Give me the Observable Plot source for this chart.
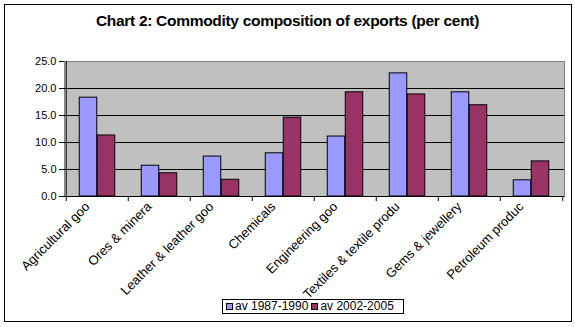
<!DOCTYPE html>
<html><head><meta charset="utf-8">
<script src="https://cdn.jsdelivr.net/npm/d3@7"></script>
<script src="https://cdn.jsdelivr.net/npm/@observablehq/plot@0.6"></script>
<style>
body{margin:0;background:#fff;font-family:"Liberation Sans",Arial,sans-serif;}
#wrap{position:relative;width:575px;height:327px;overflow:hidden;}
#border{position:absolute;left:4px;top:4px;width:566px;height:316px;border:1px solid #000;}
#title{position:absolute;left:0;top:12px;width:575px;text-align:center;font-weight:bold;font-size:15.5px;letter-spacing:-0.3px;}
#chart{position:absolute;left:0;top:40px;}
#legend{position:absolute;left:222px;top:299px;width:180px;height:13px;border:1px solid #000;font-size:12px;line-height:13px;white-space:nowrap;background:#fff;}
#legend span.sw{display:inline-block;width:5px;height:5px;border:1px solid #000;margin:0 2px 0 3px;vertical-align:0px;}
</style></head>
<body><div id="wrap"><div id="border"></div><div id="title"></div><div id="chart"></div><div id="legend"></div></div>
<script>
const title = "Chart 2: Commodity composition of exports (per cent)";
const categories = ["Agricultural goo", "Ores & minera", "Leather & leather goo", "Chemicals", "Engineering goo", "Textiles & textile produ", "Gems & jewellery", "Petroleum produc"];
const seriesNames = ["av 1987-1990", "av 2002-2005"];
const series1987 = [18.3, 5.7, 7.4, 8.0, 11.1, 22.8, 19.3, 3.0];
const series2002 = [11.3, 4.3, 3.1, 14.6, 19.3, 18.9, 16.9, 6.5];
const colors = ["#9999ff", "#993366"];
const yTicks = [0, 5, 10, 15, 20, 25];

document.getElementById("title").textContent = title;

const d1 = categories.map((c, i) => ({cat: c, v: series1987[i]}));
const d2 = categories.map((c, i) => ({cat: c, v: series2002[i]}));
const half = 500 / categories.length / 2;

const chart = Plot.plot({
  width: 575, height: 280,
  marginLeft: 64, marginRight: 11, marginTop: 21, marginBottom: 124,
  style: {fontFamily: "Liberation Sans, Arial, sans-serif", fontSize: "11px", background: "transparent", color: "#000", overflow: "visible"},
  x: {domain: categories, padding: 0, label: null, axis: null},
  y: {domain: [0, 25], label: null, axis: null},
  marks: [
    Plot.frame({fill: "#c0c0c0", stroke: "#808080"}),
    Plot.gridY(yTicks.slice(1, -1), {stroke: "#000", strokeOpacity: 1}),
    Plot.barY(d1, {x: "cat", y: "v", fill: colors[0], stroke: "#000", insetLeft: half - 18, insetRight: half}),
    Plot.barY(d2, {x: "cat", y: "v", fill: colors[1], stroke: "#000", insetLeft: half, insetRight: half - 18}),
    Plot.ruleY([0], {stroke: "#000"}),
    Plot.axisY(yTicks, {tickSize: 5, tickPadding: 3, tickFormat: d => d.toFixed(1), label: null, fontSize: 11}),
    Plot.ruleX([categories[0]], {dx: -half, stroke: "#000"}),
    Plot.axisX(categories, {tickSize: 5, tickFormat: () => "", dx: -half, label: null}),
    Plot.axisX([categories[categories.length - 1]], {tickSize: 5, tickFormat: () => "", dx: half, label: null}),
    Plot.axisX(categories, {tickSize: 0, tickPadding: 8, tickRotate: -45, dx: -10, label: null, fontSize: 13})
  ]
});
document.getElementById("chart").appendChild(chart);

const lg = document.getElementById("legend");
seriesNames.forEach((n, i) => {
  const sw = document.createElement("span");
  sw.className = "sw"; sw.style.background = colors[i];
  lg.appendChild(sw);
  lg.appendChild(document.createTextNode(n));
});
</script></body></html>
